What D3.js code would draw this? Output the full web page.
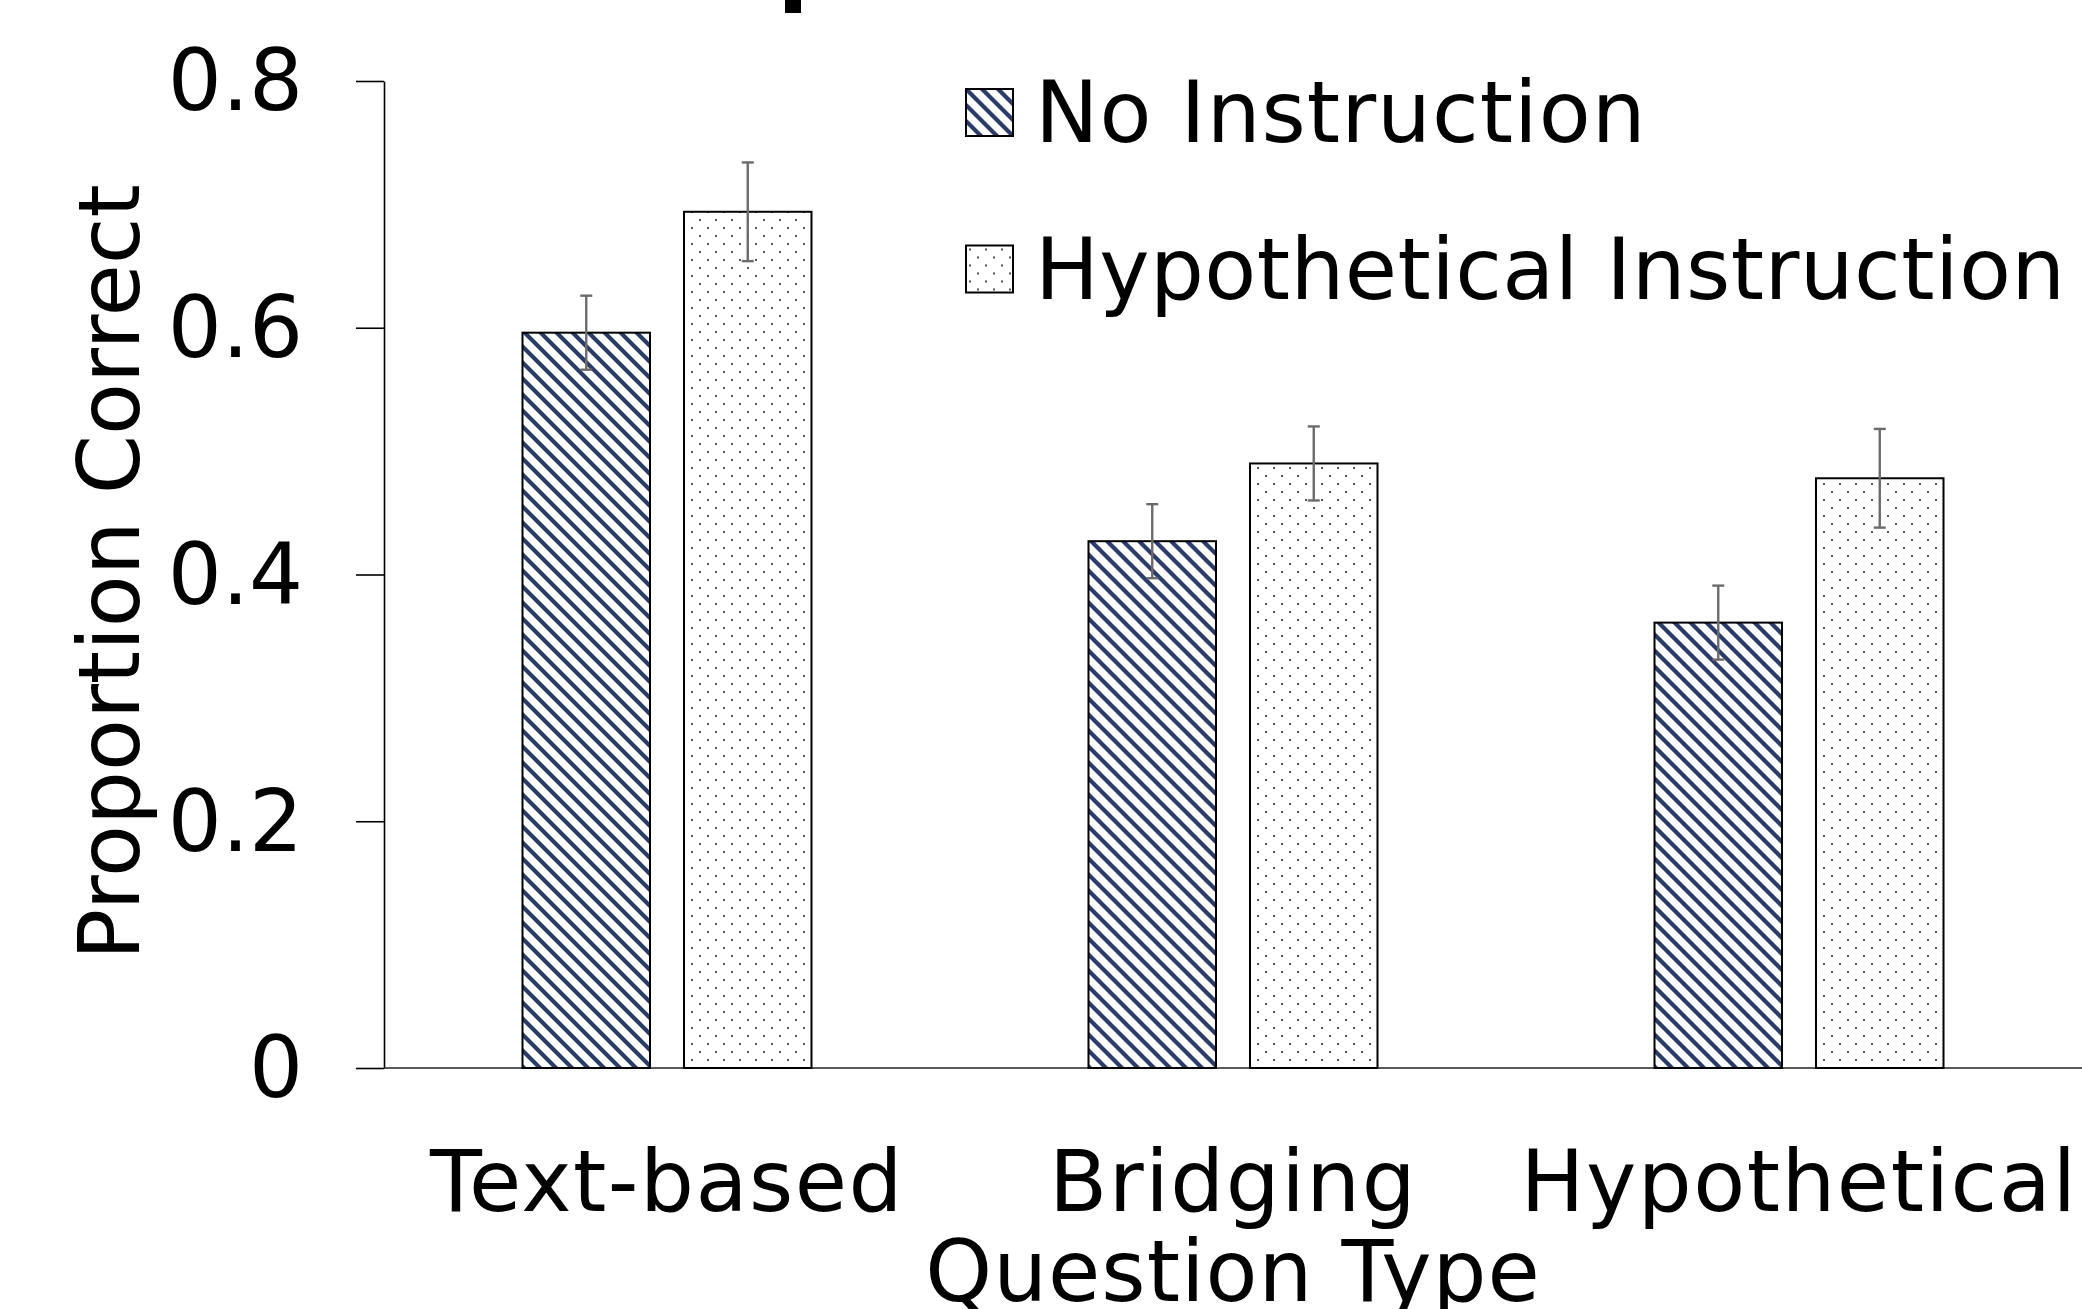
<!DOCTYPE html>
<html>
<head>
<meta charset="utf-8">
<script src="https://cdn.jsdelivr.net/npm/d3@7"></script>
<style>
  html, body { margin: 0; padding: 0; background: #fff; }
  svg { display: block; }
  text { font-family: "DejaVu Sans", Verdana, sans-serif; fill: #000; }
</style>
</head>
<body>
<script>
// ---- data ----
const categories = ["Text-based", "Bridging", "Hypothetical"];
const seriesNames = ["No Instruction", "Hypothetical Instruction"];
const noInstruction = [0.596, 0.427, 0.361];
const hypotheticalInstruction = [0.694, 0.490, 0.478];
const noInstructionErr = [0.030, 0.030, 0.030];
const hypotheticalInstructionErr = [0.040, 0.030, 0.040];
const yTicks = [0, 0.2, 0.4, 0.6, 0.8];
const yTickLabels = ["0", "0.2", "0.4", "0.6", "0.8"];
const xTitle = "Question Type";
const yTitle = "Proportion Correct";

(function () {
// ---- layout ----
const W = 2082, H = 1309;
const mLeft = 384, mRight = 2082, mTop = 81, mBottom = 1068;
const FS = 85;

const svg = d3.select("body").append("svg").attr("width", W).attr("height", H);

const defs = svg.append("defs");
const hatch = defs.append("pattern").attr("id", "hatch")
  .attr("patternUnits", "userSpaceOnUse").attr("width", 16).attr("height", 16);
hatch.append("rect").attr("width", 16).attr("height", 16).attr("fill", "#fff");
hatch.append("path").attr("d", "M-4,-4 L20,20 M-12,4 L12,28 M4,-12 L28,12")
  .attr("stroke", "#2B3C6B").attr("stroke-width", 4.2);
const dots = defs.append("pattern").attr("id", "dots")
  .attr("patternUnits", "userSpaceOnUse").attr("width", 16).attr("height", 16);
dots.append("rect").attr("width", 16).attr("height", 16).attr("fill", "#fff");
dots.append("rect").attr("x", 3).attr("y", 3).attr("width", 2).attr("height", 2).attr("fill", "#555");
dots.append("rect").attr("x", 11).attr("y", 11).attr("width", 2).attr("height", 2).attr("fill", "#555");
const fills = ["url(#hatch)", "url(#dots)"];

const y = d3.scaleLinear().domain([0, 0.8]).range([mBottom, mTop]);
const x0 = d3.scaleBand().domain(categories).range([mLeft, mRight]).padding(0);
const bw = x0.bandwidth();
const x1 = d3.scaleBand().domain(seriesNames).range([bw * 0.2447, bw * 0.7553]).paddingInner(0.2105);

// title remnant cut off at top
svg.append("rect").attr("x", 785).attr("y", 0).attr("width", 16).attr("height", 13).attr("fill", "#000");

// y axis
const yAxis = d3.axisLeft(y).tickValues(yTicks)
  .tickFormat((d, i) => yTickLabels[i]).tickSizeInner(28).tickSizeOuter(0).tickPadding(53);
const gy = svg.append("g").attr("transform", `translate(${mLeft},0)`).call(yAxis);
gy.select(".domain").attr("stroke", "#000").attr("stroke-width", 1.6);
gy.selectAll(".tick line").attr("stroke", "#000").attr("stroke-width", 1.6);
gy.selectAll(".tick text").attr("font-size", FS).attr("font-family", "DejaVu Sans").attr("fill", "#000").attr("dy", "0.34em");

// x axis baseline
svg.append("line").attr("x1", mLeft).attr("x2", mRight).attr("y1", y(0)).attr("y2", y(0))
  .attr("stroke", "#222").attr("stroke-width", 1.6);

// bars
const data = categories.map((c, i) => ({
  cat: c,
  vals: [
    { s: seriesNames[0], v: noInstruction[i], e: noInstructionErr[i], k: 0 },
    { s: seriesNames[1], v: hypotheticalInstruction[i], e: hypotheticalInstructionErr[i], k: 1 }
  ]
}));
const groups = svg.append("g").selectAll("g").data(data).join("g")
  .attr("transform", d => `translate(${x0(d.cat)},0)`);
groups.selectAll("rect").data(d => d.vals).join("rect")
  .attr("x", d => x1(d.s)).attr("width", x1.bandwidth())
  .attr("y", d => y(d.v)).attr("height", d => y(0) - y(d.v))
  .attr("fill", d => fills[d.k]).attr("stroke", "#000").attr("stroke-width", 2);

// error bars
const eb = groups.selectAll("g.err").data(d => d.vals).join("g").attr("class", "err")
  .attr("stroke", "#6b6b6b").attr("stroke-width", 2.4);
const cx = d => x1(d.s) + x1.bandwidth() / 2;
eb.append("line")
  .attr("x1", cx).attr("x2", cx)
  .attr("y1", d => y(d.v + d.e)).attr("y2", d => y(d.v - d.e));
eb.append("line")
  .attr("x1", d => cx(d) - 6).attr("x2", d => cx(d) + 6)
  .attr("y1", d => y(d.v + d.e)).attr("y2", d => y(d.v + d.e));
eb.append("line")
  .attr("x1", d => cx(d) - 6).attr("x2", d => cx(d) + 6)
  .attr("y1", d => y(d.v - d.e)).attr("y2", d => y(d.v - d.e));

// category labels
svg.append("g").selectAll("text").data(categories).join("text")
  .attr("x", d => x0(d) + bw / 2).attr("y", 1211)
  .attr("text-anchor", "middle").attr("font-size", FS).attr("letter-spacing", 1.5).text(d => d);

// axis titles
svg.append("text").attr("x", (mLeft + mRight) / 2).attr("y", 1301)
  .attr("text-anchor", "middle").attr("font-size", FS).attr("letter-spacing", 1).text(xTitle);
svg.append("text").attr("transform", `translate(139,572) rotate(-90)`)
  .attr("text-anchor", "middle").attr("font-size", FS).text(yTitle);

// legend
const leg = svg.append("g").selectAll("g").data(seriesNames).join("g")
  .attr("transform", (d, i) => `translate(966,${89 + i * 156.5})`);
leg.append("rect").attr("width", 47).attr("height", 47)
  .attr("fill", (d, i) => fills[i]).attr("stroke", "#000").attr("stroke-width", 2);
leg.append("text").attr("x", 69).attr("y", 53).attr("font-size", FS)
  .attr("letter-spacing", (d, i) => i === 0 ? 1 : 0.4).text(d => d);
})();
</script>
</body>
</html>
